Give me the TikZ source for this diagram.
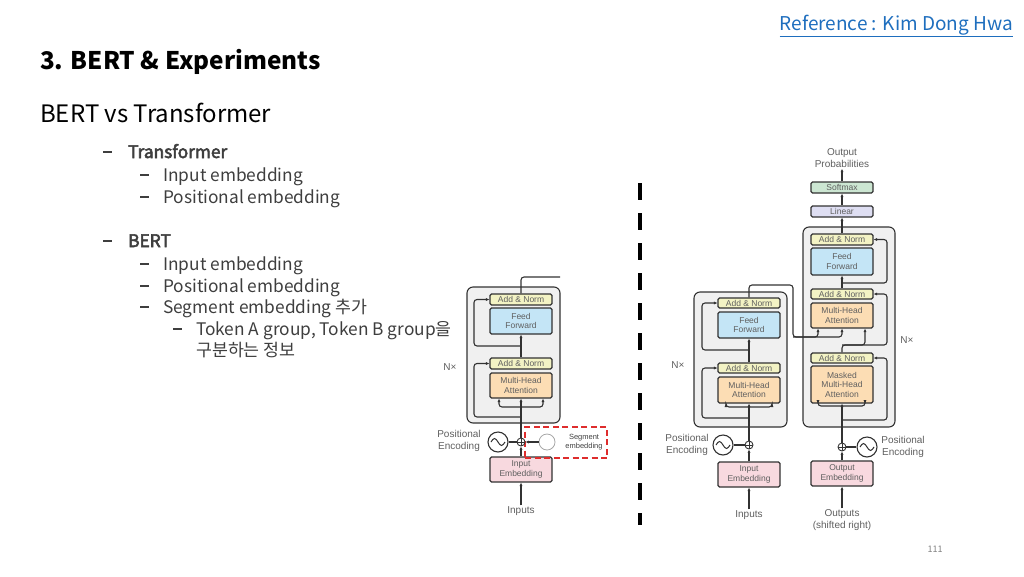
\documentclass[tikz,border=0pt]{standalone}
\usepackage{fontspec}
\setmainfont{Noto Sans CJK KR}
\newfontfamily\diagfont{Liberation Sans}
\newfontfamily\headfont[FakeBold=3]{Noto Sans CJK KR}
\usepackage{tikz}
\usepackage{xcolor}
\usetikzlibrary{positioning, arrows.meta}
\definecolor{lnclr}{RGB}{50, 50, 50}
\definecolor{txclr}{RGB}{95, 95, 95}
\definecolor{stackfill}{RGB}{240, 240, 240}
\definecolor{normfill}{RGB}{243, 243, 196}
\definecolor{ffwdfill}{RGB}{196, 229, 246}
\definecolor{attnfill}{RGB}{252, 221, 180}
\definecolor{embfill}{RGB}{248, 217, 223}
\definecolor{softfill}{RGB}{204, 230, 210}
\definecolor{linfill}{RGB}{222, 222, 242}
\definecolor{segred}{RGB}{222, 45, 45}
\definecolor{linkblue}{RGB}{30, 110, 190}
\definecolor{listgray}{RGB}{62, 62, 62}
\newcommand{\lbar}{\raisebox{0.3em}{\rule{0.5em}{1.5pt}}}
\tikzset{
    layer/.style={rectangle, draw=lnclr, line width=1.1pt, rounded corners=1.5pt, minimum width=62pt, inner sep=0pt, align=center, text=txclr, font=\diagfont\fontsize{8.5}{9.5}\selectfont},
    normbox/.style={layer, fill=normfill, minimum height=11pt},
    ffwdbox/.style={layer, fill=ffwdfill, minimum height=26pt},
    attnbox/.style={layer, fill=attnfill, minimum height=25pt},
    embbox/.style={layer, fill=embfill, minimum height=25pt},
    stack/.style={rectangle, draw=lnclr, line width=1.1pt, rounded corners=6pt, fill=stackfill},
    wire/.style={draw=lnclr, line width=1.1pt, rounded corners=3pt},
    arr/.style={wire, -{Latex[length=3.5pt, width=3.2pt]}},
    addop/.style={circle, draw=lnclr, line width=0.9pt, minimum size=8pt, inner sep=0pt, fill=white,
        path picture={\draw[lnclr, line width=0.8pt] (path picture bounding box.north) -- (path picture bounding box.south)
            (path picture bounding box.west) -- (path picture bounding box.east);}},
    wave/.style={circle, draw=lnclr, line width=1.1pt, minimum size=20pt, inner sep=0pt, fill=white,
        path picture={\draw[lnclr, line width=1pt] ([xshift=-7pt]path picture bounding box.center)
            sin ++(3.5pt,3.5pt) cos ++(3.5pt,-3.5pt) sin ++(3.5pt,-3.5pt) cos ++(3.5pt,3.5pt);}},
    lbl/.style={text=txclr, inner sep=1pt, align=center, font=\diagfont\fontsize{10}{12}\selectfont},
    item/.style={anchor=base west, inner sep=0pt, text=listgray, font=\fontsize{17.3}{20}\selectfont},
    segbox/.style={rectangle, draw=segred, line width=2pt, dash pattern=on 6pt off 3.5pt, minimum width=82pt, minimum height=31pt},
    segdot/.style={circle, draw=gray!70, line width=0.8pt, minimum size=16pt, inner sep=0pt},
    divider/.style={draw=black, line width=4pt, dash pattern=on 17pt off 13pt}
}

\begin{document}
\begin{tikzpicture}[x=1pt, y=-1pt]
\useasboundingbox (0,0) rectangle (1024,576);

% header
\node[anchor=east, inner sep=0pt, text=linkblue, font=\fontsize{19}{22}\selectfont] (ref) at (1013,26) {\underline{Reference : Kim Dong Hwa}};
\node[anchor=west, inner sep=0pt, font=\bfseries\fontsize{24.3}{27}\selectfont] (title) at (40,62) {3. BERT \& Experiments};
\node[anchor=west, inner sep=0pt, font=\fontsize{24}{27}\selectfont] (subtitle) at (40,113) {BERT vs Transformer};
\node[text=gray, font=\fontsize{9}{10}\selectfont] (pageno) at (935,549) {111};

% bullet list
\node[item] (tf) at (103,158) {\makebox[25pt][l]{\lbar}{\headfont Transformer}};
\node[item] (tfin) at (140,181) {\makebox[23pt][l]{\lbar}Input embedding};
\node[item] (tfpos) at (140,203) {\makebox[23pt][l]{\lbar}Positional embedding};
\node[item] (bt) at (103,247) {\makebox[25pt][l]{\lbar}{\headfont BERT}};
\node[item] (btin) at (140,270) {\makebox[23pt][l]{\lbar}Input embedding};
\node[item] (btpos) at (140,292) {\makebox[23pt][l]{\lbar}Positional embedding};
\node[item] (btseg) at (140,313) {\makebox[23pt][l]{\lbar}Segment embedding 추가};
\node[item] (bttok) at (173,335) {\makebox[23pt][l]{\lbar}Token A group, Token B group을};
\node[item] (btinfo) at (196,356) {구분하는 정보};

% divider
\coordinate (divtop) at (640,183);
\coordinate (divbot) at (640,525);
\draw[divider] (divtop) -- (divbot);

% BERT encoder
\node[stack, minimum width=93pt, minimum height=136pt] (bstack) at (513.5,355) {};
\node[normbox] (ban1) at (521,299.5) {Add \& Norm};
\node[ffwdbox] (bff) at (521,321) {Feed\\Forward};
\node[normbox] (ban2) at (521,363.5) {Add \& Norm};
\node[attnbox] (bmha) at (521,385.5) {Multi-Head\\Attention};
\node[embbox] (bemb) at (521,469.5) {Input\\Embedding};
\node[segbox] (bsegbox) at (566,442.5) {};
\node[addop] (badd) at (521,442) {};
\node[wave] (bpe) at (498,442) {};
\node[lbl] (bpetxt) at (459,441) {Positional\\Encoding};
\node[segdot] (bseg) at (547,442) {};
\node[lbl, text=black!75, font=\diagfont\fontsize{7.5}{9}\selectfont] (bsegtxt) at (584,442) {Segment\\embedding};
\node[lbl] (binp) at (521,511) {Inputs};
\node[lbl] (bnx) at (450,367) {N×};

\coordinate (bleft) at (474,0);
\coordinate (bffres) at (521,346);
\coordinate (battres) at (521,417);
\coordinate (bsplit) at (521,407);
\coordinate (bout) at (560,277);
\draw[arr] (binp) -- (bemb);
\draw[arr] (bemb) -- (badd);
\draw[wire] (bpe) -- (badd);
\draw[arr] (bseg) -- (badd);
\draw[arr] (badd) -- (bmha);
\draw[arr] (bsplit) -| ([xshift=-22pt]bmha.south);
\draw[arr] (bsplit) -| ([xshift=22pt]bmha.south);
\draw[arr] (battres) -- (battres -| bleft) |- (ban2.west);
\draw[arr] (ban2) -- (bff);
\draw[arr] (bffres) -- (bffres -| bleft) |- (ban1.west);
\draw[wire] (ban1) |- (bout);

% Transformer encoder
\node[stack, minimum width=93pt, minimum height=135pt] (estack) at (740.5,359.5) {};
\node[normbox, minimum height=10pt] (ean1) at (749,303) {Add \& Norm};
\node[ffwdbox] (eff) at (749,325) {Feed\\Forward};
\node[normbox, minimum height=10pt] (ean2) at (749,368) {Add \& Norm};
\node[attnbox, minimum height=26pt] (emha) at (749,390) {Multi-Head\\Attention};
\node[embbox] (eemb) at (749,474.5) {Input\\Embedding};
\node[addop] (eadd) at (749,445) {};
\node[wave] (epe) at (723,445) {};
\node[lbl] (epetxt) at (687,445) {Positional\\Encoding};
\node[lbl] (einp) at (749,515) {Inputs};
\node[lbl] (enx) at (678,365) {N×};

\coordinate (eleft) at (702,0);
\coordinate (effres) at (749,350);
\coordinate (eattres) at (749,418);
\coordinate (esplit) at (749,407);
\draw[arr] (einp) -- (eemb);
\draw[arr] (eemb) -- (eadd);
\draw[wire] (epe) -- (eadd);
\draw[arr] (eadd) -- (emha);
\draw[arr] (esplit) -| ([xshift=-23pt]emha.south);
\draw[arr] (esplit) -| ([xshift=23pt]emha.south);
\draw[arr] (eattres) -- (eattres -| eleft) |- (ean2.west);
\draw[arr] (ean2) -- (eff);
\draw[arr] (effres) -- (effres -| eleft) |- (ean1.west);

% Transformer decoder
\node[lbl] (dprob) at (842,158) {Output\\Probabilities};
\node[layer, fill=softfill, minimum height=11pt] (dsoft) at (842,187.5) {Softmax};
\node[layer, fill=linfill, minimum height=11pt] (dlin) at (842,211.5) {Linear};
\node[stack, minimum width=92pt, minimum height=200pt] (dstack) at (849,327) {};
\node[normbox] (dan1) at (842,239.5) {Add \& Norm};
\node[ffwdbox, minimum height=27pt] (dff) at (842,261.5) {Feed\\Forward};
\node[normbox, minimum height=10pt] (dan2) at (842,294) {Add \& Norm};
\node[attnbox] (dmha) at (842,315.5) {Multi-Head\\Attention};
\node[normbox, minimum height=10pt] (dan3) at (842,358) {Add \& Norm};
\node[attnbox, minimum height=37pt] (dmmha) at (842,384.5) {Masked\\Multi-Head\\Attention};
\node[addop] (dadd) at (842,447) {};
\node[wave] (dpe) at (867,447) {};
\node[lbl] (dpetxt) at (903,447) {Positional\\Encoding};
\node[embbox] (demb) at (842,473.5) {Output\\Embedding};
\node[lbl] (dout) at (842,520) {Outputs\\(shifted right)};
\node[lbl] (dnx) at (907,340) {N×};

\coordinate (dright) at (887,0);
\coordinate (dffres) at (842,283);
\coordinate (dtap) at (842,345);
\coordinate (dmres) at (842,420);
\coordinate (dsplit) at (842,406);
\draw[arr] (dout) -- (demb);
\draw[arr] (demb) -- (dadd);
\draw[wire] (dpe) -- (dadd);
\draw[arr] (dadd) -- (dmmha);
\draw[arr] (dsplit) -| ([xshift=-24pt]dmmha.south);
\draw[arr] (dsplit) -| ([xshift=23pt]dmmha.south);
\draw[arr] (dmres) -- (dmres -| dright) |- (dan3.east);
\draw[arr] (dan3) -- (dtap) -| ([xshift=23pt]dmha.south);
\draw[arr] (dtap) -- (dtap -| dright) |- (dan2.east);
\draw[arr] (dan2) -- (dff);
\draw[arr] (dffres) -- (dffres -| dright) |- (dan1.east);
\draw[arr] (dan1) -- (dlin);
\draw[arr] (dlin) -- (dsoft);
\draw[arr] (dsoft) -- (dprob);

% encoder output into decoder
\coordinate (etop) at (793,285);
\coordinate (ebus) at (793,337);
\draw[arr] (ean1) |- (etop) -- (ebus) -| ([xshift=-24pt]dmha.south);
\draw[arr] (ebus) -| (dmha.south);
\end{tikzpicture}
\end{document}
